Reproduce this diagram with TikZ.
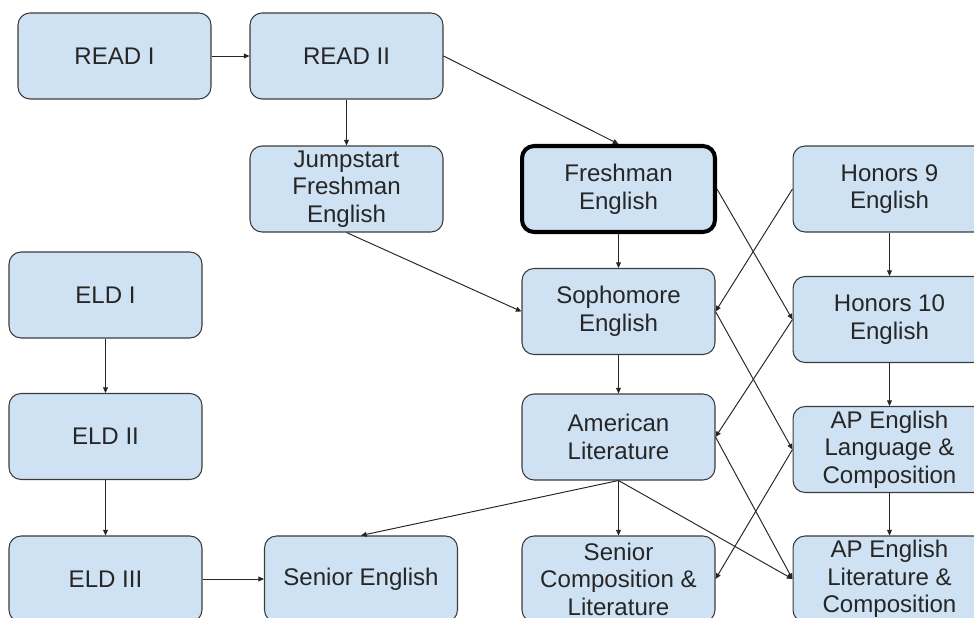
\documentclass[tikz,border=0pt]{standalone}
\usepackage{fontspec}
\setmainfont{Liberation Sans}
\usetikzlibrary{arrows.meta}
\definecolor{boxblue}{RGB}{207,226,243}
\definecolor{boxline}{RGB}{60,60,60}

\begin{document}
\begin{tikzpicture}[x=0.02cm,y=-0.02cm,
    course/.style={draw=boxline,line width=0.6pt,fill=boxblue,rounded corners=0.24cm,
      minimum width=3.86cm,minimum height=1.72cm,align=center,inner sep=0pt,
      text=black!85,font=\fontsize{13.7}{15.7}\selectfont},
    core/.style={course,draw=black,line width=2.3pt},
    link/.style={-{Triangle[length=3.2pt,width=2.8pt]},line width=0.55pt,draw=black!85}]
    \useasboundingbox (0,0) rectangle (974,618);
    \clip (0,0) rectangle (974,618);
    % reading track
    \node[course] (readI) at (114.5,56) {READ I};
    \node[course] (readII) at (346.5,56) {READ II};
    \node[course] (jump) at (346.5,189) {Jumpstart\\Freshman\\English};
    % ELD track
    \node[course] (eldI) at (105.5,295) {ELD I};
    \node[course] (eldII) at (105.5,436.5) {ELD II};
    \node[course] (eldIII) at (105.5,579) {ELD III};
    \node[course] (seng) at (361,579) {Senior English};
    % college prep
    \node[core] (fresh) at (618.5,189) {Freshman\\English};
    \node[course] (soph) at (618.5,311.5) {Sophomore\\English};
    \node[course] (amer) at (618.5,437) {American\\Literature};
    \node[course] (scomp) at (618.5,579) {Senior\\Composition \&\\Literature};
    % honors and AP
    \node[course] (hon9) at (889.5,189) {Honors 9\\English};
    \node[course] (hon10) at (889.5,319.5) {Honors 10\\English};
    \node[course] (aplang) at (889.5,449.5) {AP English\\Language \&\\Composition};
    \node[course] (aplit) at (889.5,579) {AP English\\Literature \&\\Composition};

    \draw[link] (readI) -- (readII);
    \draw[link] (readII) -- (jump);
    \draw[link] (readII.east) -- (fresh.north);
    \draw[link] (jump.south) -- (soph.west);
    \draw[link] (eldI) -- (eldII);
    \draw[link] (eldII) -- (eldIII);
    \draw[link] (eldIII) -- (seng);
    \draw[link] (fresh) -- (soph);
    \draw[link] (soph) -- (amer);
    \draw[link] (amer) -- (scomp);
    \draw[link] (hon9) -- (hon10);
    \draw[link] (hon10) -- (aplang);
    \draw[link] (aplang) -- (aplit);
    \draw[link] (fresh.east) -- (hon10.west);
    \draw[link] (hon9.west) -- (soph.east);
    \draw[link] (soph.east) -- (aplang.west);
    \draw[link] (hon10.west) -- (amer.east);
    \draw[link] (amer.east) -- (aplit.west);
    \draw[link] (aplang.west) -- (scomp.east);
    \draw[link] (amer.south) -- (aplit.west);
    \draw[link] (amer.south) -- (seng.north);
\end{tikzpicture}
\end{document}
